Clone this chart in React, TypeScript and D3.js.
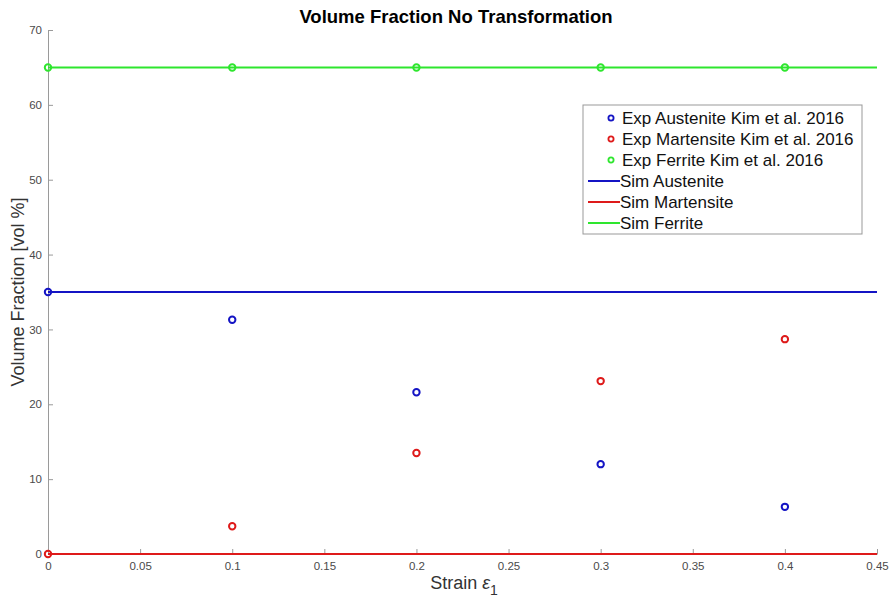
import React, { useEffect, useRef } from 'react';
import * as d3 from 'd3';

// data
const strain = [0, 0.1, 0.2, 0.3, 0.4];
const expAustenite = [35, 31.3, 21.6, 12.0, 6.3];
const expMartensite = [0, 3.7, 13.5, 23.1, 28.7];
const expFerrite = [65, 65, 65, 65, 65];
const simX = [0, 0.45];
const simAustenite = [35, 35];
const simMartensite = [0, 0];
const simFerrite = [65, 65];
const xTicks = [0, 0.05, 0.1, 0.15, 0.2, 0.25, 0.3, 0.35, 0.4, 0.45];
const yTicks = [0, 10, 20, 30, 40, 50, 60, 70];

const BLUE = '#1414c4';
const RED = '#de1a1a';
const GREEN = '#2ee62e';

const W = 891, H = 602;
const margin = { top: 30, right: 14, bottom: 48, left: 48 };

function App() {
  const svgRef = useRef<SVGSVGElement>(null);

  useEffect(() => {
    if (!svgRef.current) return;
    const svg = d3.select(svgRef.current);
    svg.selectAll('*').remove();
    const font = 'Liberation Sans, Arial, Helvetica, sans-serif';

    const x = d3.scaleLinear().domain([0, 0.45]).range([margin.left, W - margin.right]);
    const y = d3.scaleLinear().domain([0, 70]).range([H - margin.bottom, margin.top]);

    // axes
    const xAxis = svg.append('g')
      .attr('transform', `translate(0,${y(0)})`)
      .call(d3.axisBottom(x).tickValues(xTicks).tickSizeInner(-5).tickSizeOuter(0).tickPadding(8)
        .tickFormat(d => String(d)));
    xAxis.select('.domain').attr('stroke', '#9a9a9a');
    xAxis.selectAll('.tick line').attr('stroke', '#9a9a9a');
    xAxis.selectAll('.tick text').attr('fill', '#4a4a4a').style('font', `11.5px ${font}`);

    const yAxis = svg.append('g')
      .attr('transform', `translate(${x(0)},0)`)
      .call(d3.axisLeft(y).tickValues(yTicks).tickSizeInner(-5).tickSizeOuter(0).tickPadding(6));
    yAxis.select('.domain').attr('stroke', '#9a9a9a');
    yAxis.selectAll('.tick line').attr('stroke', '#9a9a9a');
    yAxis.selectAll('.tick text').attr('fill', '#4a4a4a').style('font', `11.5px ${font}`);

    // simulation lines
    const line = d3.line<[number, number]>().x(d => x(d[0])).y(d => y(d[1]));
    const sims: [number[], string][] = [[simAustenite, BLUE], [simMartensite, RED], [simFerrite, GREEN]];
    sims.forEach(([vals, c]) => {
      svg.append('path')
        .datum(simX.map((v, i) => [v, vals[i]] as [number, number]))
        .attr('d', line)
        .attr('fill', 'none')
        .attr('stroke', c)
        .attr('stroke-width', 2);
    });

    // experimental markers
    const exps: [number[], string][] = [[expAustenite, BLUE], [expMartensite, RED], [expFerrite, GREEN]];
    exps.forEach(([vals, c]) => {
      svg.append('g').selectAll('circle')
        .data(vals)
        .join('circle')
        .attr('cx', (d, i) => x(strain[i]))
        .attr('cy', d => y(d))
        .attr('r', 3.2)
        .attr('fill', 'none')
        .attr('stroke', c)
        .attr('stroke-width', 2);
    });

    // title and labels
    svg.append('text')
      .attr('x', 456).attr('y', 23)
      .attr('text-anchor', 'middle')
      .style('font', `bold 18.5px ${font}`)
      .text('Volume Fraction No Transformation');

    const xl = svg.append('text')
      .attr('x', 464).attr('y', 589)
      .attr('text-anchor', 'middle')
      .attr('fill', '#333')
      .style('font', `18px ${font}`);
    xl.append('tspan').text('Strain ');
    xl.append('tspan').text('ε').style('font-style', 'italic');
    xl.append('tspan').text('1').attr('dy', 6).style('font-size', '14px');

    svg.append('text')
      .attr('transform', `translate(24,${(y(0) + y(70)) / 2}) rotate(-90)`)
      .attr('text-anchor', 'middle')
      .attr('fill', '#333')
      .style('font', `18px ${font}`)
      .text('Volume Fraction [vol %]');

    // legend
    const lg = svg.append('g');
    lg.append('rect')
      .attr('x', 583).attr('y', 105).attr('width', 279).attr('height', 129)
      .attr('fill', 'white').attr('stroke', '#999').attr('stroke-width', 1);
    const labels = ['Exp Austenite Kim et al. 2016', 'Exp Martensite Kim et al. 2016', 'Exp Ferrite Kim et al. 2016',
      'Sim Austenite', 'Sim Martensite', 'Sim Ferrite'];
    const colors = [BLUE, RED, GREEN, BLUE, RED, GREEN];
    labels.forEach((t, i) => {
      const cy = 118 + i * 21;
      if (i < 3) {
        lg.append('circle').attr('cx', 611).attr('cy', cy).attr('r', 2.6)
          .attr('fill', 'none').attr('stroke', colors[i]).attr('stroke-width', 1.8);
      } else {
        lg.append('line').attr('x1', 588).attr('x2', 620).attr('y1', cy).attr('y2', cy)
          .attr('stroke', colors[i]).attr('stroke-width', 2);
      }
      lg.append('text')
        .attr('x', i < 3 ? 622 : 620).attr('y', cy + 6)
        .style('font', `17px ${font}`)
        .attr('fill', '#111')
        .text(t);
    });

    return () => { svg.selectAll('*').remove(); };
  }, []);

  return (
    <svg ref={svgRef} width={W} height={H}
      style={{ position: 'absolute', left: 0, top: 0, background: 'white' }} />
  );
}

export default App;
